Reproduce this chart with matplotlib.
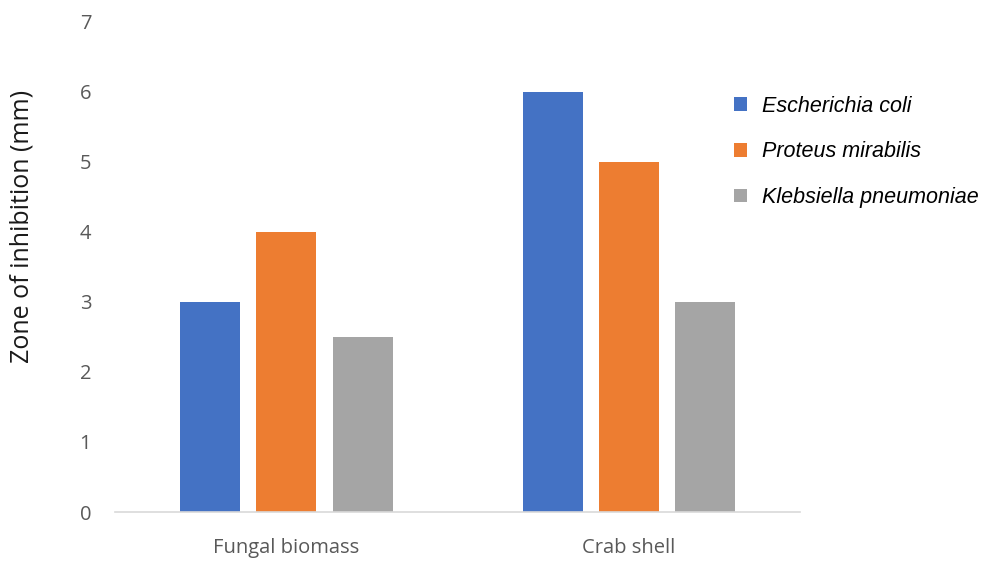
import matplotlib
matplotlib.use("Agg")
import matplotlib.pyplot as plt
import numpy as np

categories = ["Fungal biomass", "Crab shell"]
series_names = ["Escherichia coli", "Proteus mirabilis", "Klebsiella pneumoniae"]
escherichia = [3, 6]
proteus = [4, 5]
klebsiella = [2.5, 3]
colors = ["#4472C4", "#ED7D31", "#A5A5A5"]

fig = plt.figure(figsize=(9.82, 5.61), dpi=100)
ax = fig.add_axes([0.117, 0.0873, 0.698, 0.874])

x = np.arange(len(categories))
width = 0.175
step = 0.223
for i, (vals, name, c) in enumerate(zip([escherichia, proteus, klebsiella], series_names, colors)):
    ax.bar(x + (i - 1) * step, vals, width, color=c, label=name)

ax.set_xlim(-0.5, 1.5)
ax.set_ylim(0, 7)
ax.set_yticks(range(0, 8))
ax.set_xticks(x)
ax.set_xticklabels(categories)

for s in ["top", "right", "left"]:
    ax.spines[s].set_visible(False)
ax.spines["bottom"].set_color("#D9D9D9")
ax.spines["bottom"].set_linewidth(1.2)
ax.tick_params(axis="both", length=0, labelcolor="#595959", labelsize=14.5)
ax.tick_params(axis="y", pad=17)
ax.tick_params(axis="x", pad=19)
for lab in ax.get_xticklabels() + ax.get_yticklabels():
    lab.set_family("Open Sans")

ax.set_ylabel("Zone of inhibition (mm)", fontsize=18, family="Open Sans", color="#1a1a1a")
ax.yaxis.set_label_coords(-0.118, 0.582)

leg = fig.legend(loc="upper left", bbox_to_anchor=(0.728, 0.864), frameon=False,
                 prop={"family": "Liberation Sans", "style": "italic", "size": 15.5},
                 handlelength=0.6, handleheight=0.6, handletextpad=0.7, labelspacing=1.15)

fig.savefig("out.png", dpi=100)
